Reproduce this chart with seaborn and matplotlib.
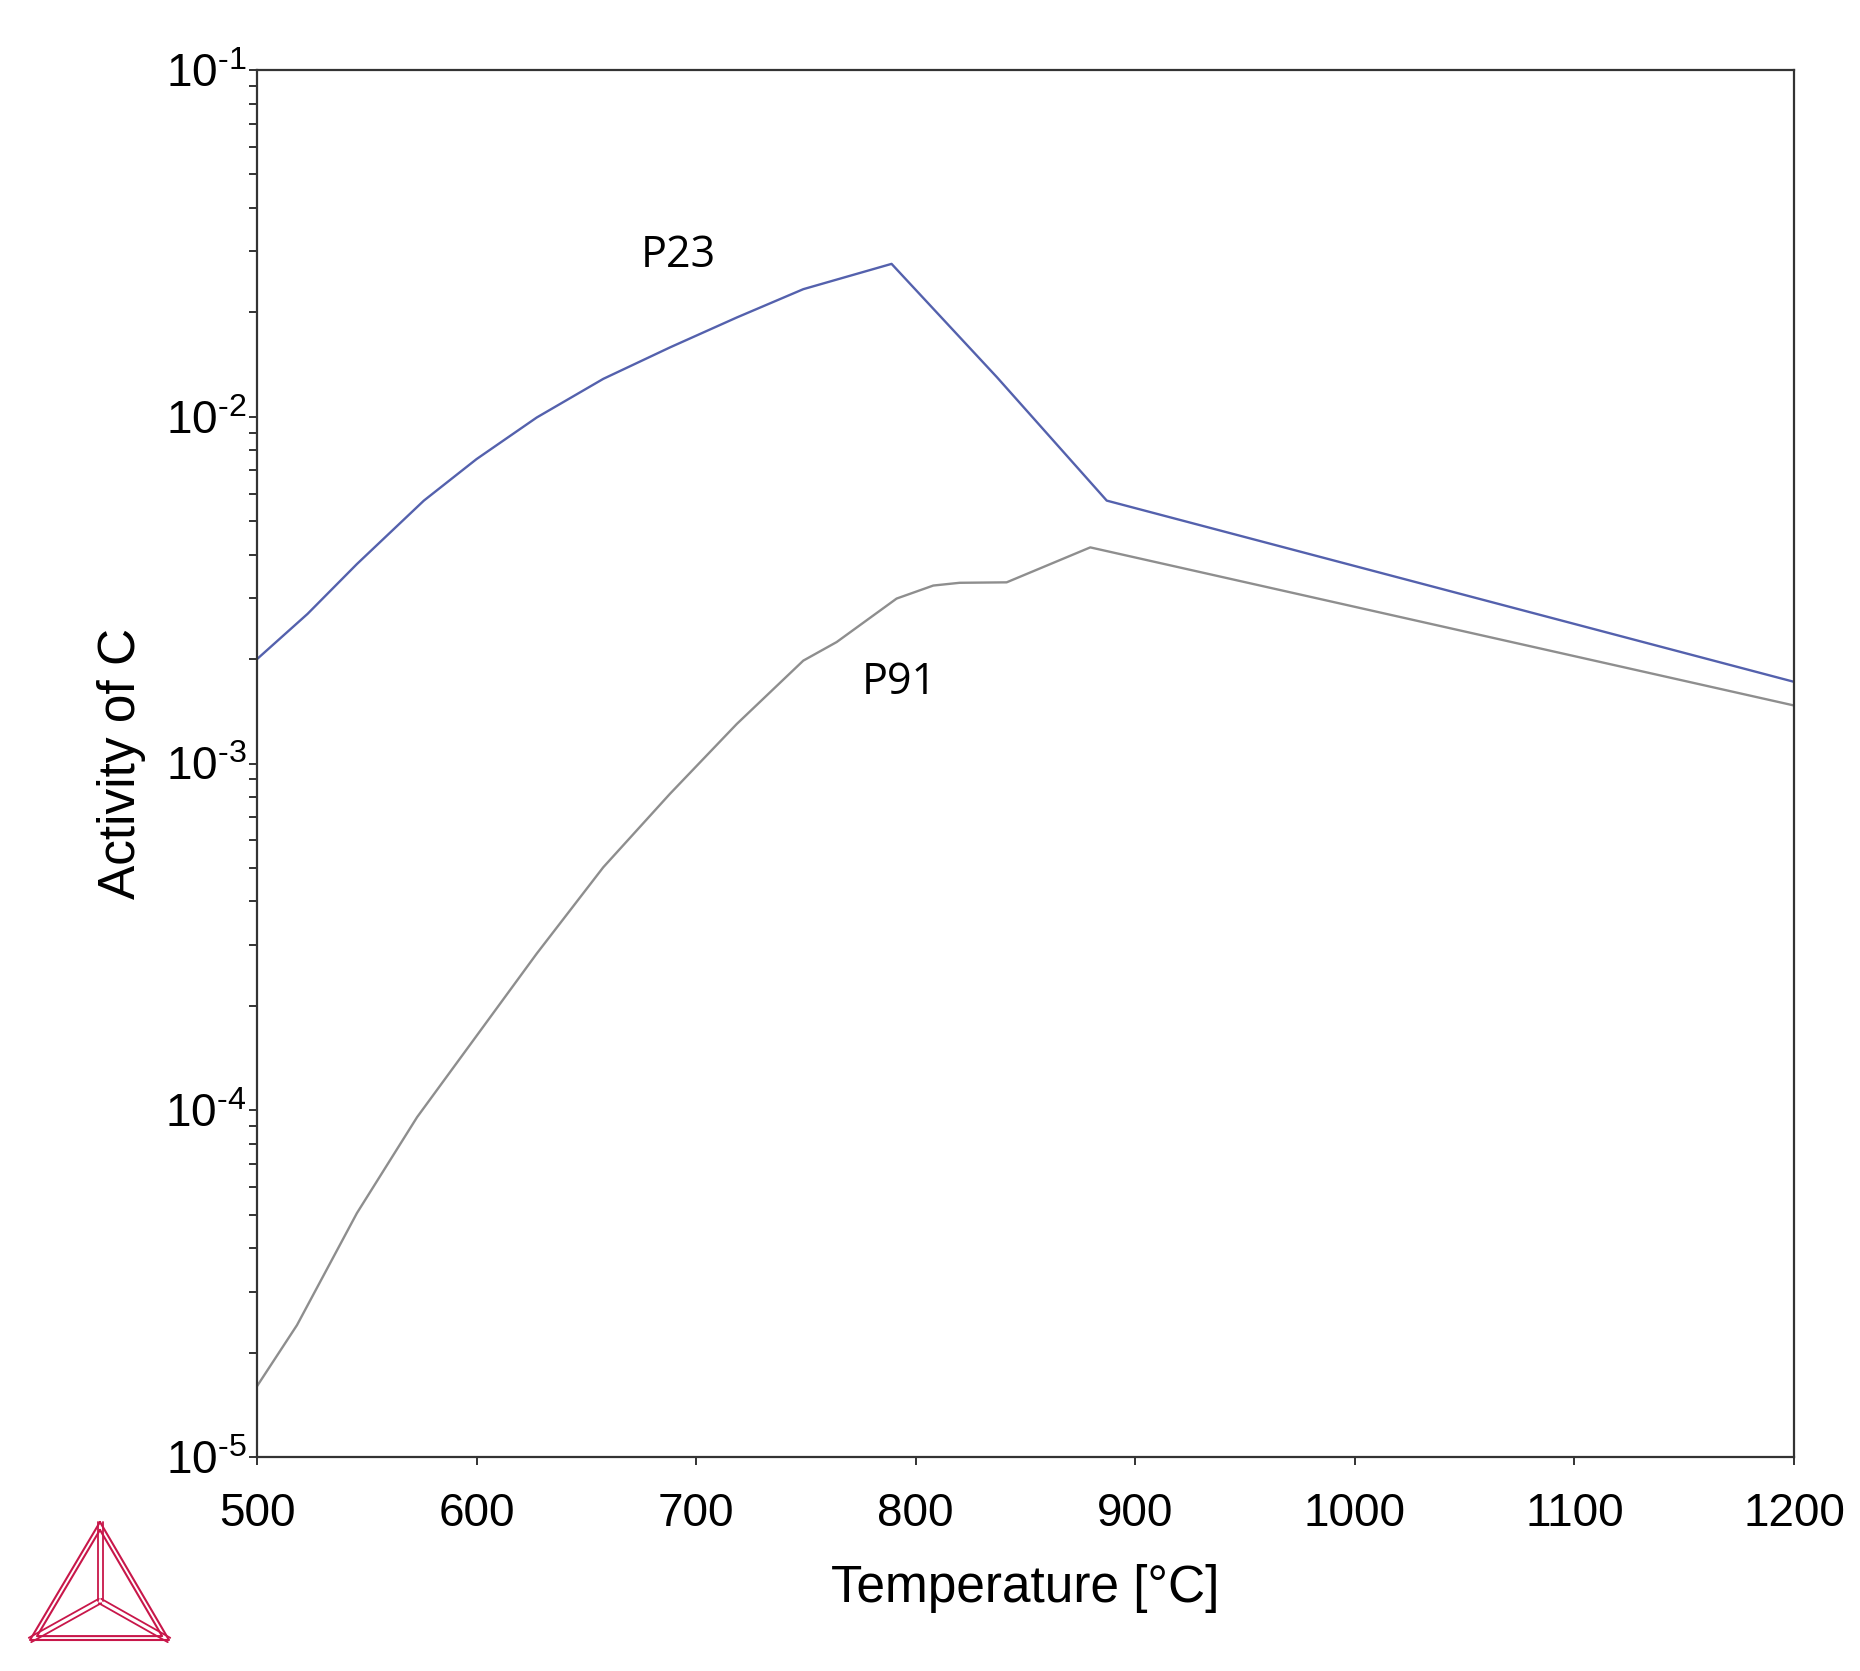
import numpy as np
import pandas as pd
import matplotlib
matplotlib.use("Agg")
import matplotlib.pyplot as plt
import seaborn as sns
from matplotlib.ticker import LogLocator, NullFormatter, FixedLocator, FuncFormatter

# ---------------- data ----------------
p23_T = [500, 523, 545.5, 576, 600, 627.4, 657.7, 688.1, 718.5, 748.8, 789,
         837, 887, 1200]
p23_a = [2.00e-3, 2.70e-3, 3.76e-3, 5.73e-3, 7.55e-3, 9.95e-3, 1.286e-2,
         1.585e-2, 1.933e-2, 2.333e-2, 2.76e-2, 1.30e-2, 5.73e-3, 1.72e-3]

p91_T = [500, 518.2, 545.5, 572.9, 597.2, 627.4, 657.7, 688.1, 718.5, 748.8,
         764, 791.3, 808, 820, 841.4, 879.5, 1200]
p91_a = [1.60e-5, 2.40e-5, 5.05e-5, 9.55e-5, 1.55e-4, 2.83e-4, 5.02e-4,
         8.18e-4, 1.30e-3, 1.98e-3, 2.24e-3, 2.99e-3, 3.26e-3, 3.32e-3,
         3.33e-3, 4.20e-3, 1.47e-3]

series_names = ["P23", "P91"]
series_colors = {"P23": "#5461ad", "P91": "#8e8e8e"}
label_pos = {"P23": (691.9, 10 ** -1.536), "P91": (792.4, 10 ** -2.767)}

x_ticks = [500, 600, 700, 800, 900, 1000, 1100, 1200]
x_label = "Temperature [°C]"
y_label = "Activity of C"

df = pd.concat([
    pd.DataFrame({"T": p23_T, "a": p23_a, "alloy": "P23"}),
    pd.DataFrame({"T": p91_T, "a": p91_a, "alloy": "P91"}),
], ignore_index=True)

# ---------------- style ----------------
sns.set_theme(style="white")
plt.rcParams["font.family"] = ["Liberation Sans", "DejaVu Sans"]
plt.rcParams["mathtext.fontset"] = "custom"
plt.rcParams["mathtext.rm"] = "Liberation Sans"
plt.rcParams["mathtext.it"] = "Liberation Sans:italic"
plt.rcParams["mathtext.bf"] = "Liberation Sans:bold"
plt.rcParams["mathtext.sf"] = "Liberation Sans"
plt.rcParams["mathtext.default"] = "regular"

W, H = 1860, 1671
fig = plt.figure(figsize=(W / 100, H / 100), dpi=100)
fig.patch.set_facecolor("white")

ax = fig.add_axes([257 / W, 1 - 1457 / H, 1537 / W, 1387 / H])

sns.lineplot(data=df, x="T", y="a", hue="alloy", palette=series_colors,
             hue_order=series_names, estimator=None, sort=False,
             legend=False, linewidth=1.7, ax=ax)

ax.set_yscale("log")
ax.set_xlim(500, 1200)
ax.set_ylim(1e-5, 1e-1)
ax.xaxis.set_major_locator(FixedLocator(x_ticks))
ax.yaxis.set_major_locator(LogLocator(base=10, numticks=10))
ax.yaxis.set_minor_locator(LogLocator(base=10, subs=np.arange(2, 10), numticks=20))
ax.yaxis.set_minor_formatter(NullFormatter())
ax.xaxis.set_minor_locator(FixedLocator([]))


def log_fmt(v, pos):
    e = int(round(np.log10(v)))
    if e < 0:
        return r"$10^{\text{-}%d}$" % (-e)
    return r"$10^{%d}$" % e


ax.yaxis.set_major_formatter(FuncFormatter(log_fmt))

spine_col = "#333333"
for s in ax.spines.values():
    s.set_visible(True)
    s.set_color(spine_col)
    s.set_linewidth(1.6)

ax.tick_params(axis="both", which="both", direction="out", color=spine_col,
               width=1.4, length=5.5, top=False, right=False,
               bottom=True, left=True, labelcolor="black")
ax.tick_params(axis="x", which="major", labelsize=33, pad=20)
ax.tick_params(axis="y", which="major", labelsize=33, pad=2)

ax.set_xlabel(x_label, fontsize=37, color="black")
ax.set_ylabel(y_label, fontsize=37, color="black")
ax.xaxis.set_label_coords(0.5, -0.077)
ax.yaxis.set_label_coords(-0.072, 0.5)
ax.grid(False)

for name in series_names:
    xx, yy = label_pos[name]
    ax.text(xx, yy, name, ha="center", va="center", fontsize=31,
            family=["Open Sans", "DejaVu Sans"], color="black")

# ---------------- logo (decoration) ----------------
lax = fig.add_axes([0, 0, 1, 1], zorder=-1)
lax.set_xlim(0, W)
lax.set_ylim(H, 0)
lax.axis("off")
logo_col = "#c8174a"
A = np.array([100, 1522.0]); L = np.array([30, 1640.0]); R = np.array([169, 1640.0])
Cc = np.array([100, 1601.0])
for k in (1.0, 0.9):
    a_ = Cc + (A - Cc) * k; l_ = Cc + (L - Cc) * k; r_ = Cc + (R - Cc) * k
    tri = np.array([a_, l_, r_, a_])
    lax.plot(tri[:, 0], tri[:, 1], color=logo_col, lw=1.5)
for P in (A, L, R):
    for off in (-2.5, 2.5):
        d = P - Cc
        n = np.array([-d[1], d[0]]) / np.hypot(*d) * off
        lax.plot([Cc[0] + n[0], P[0] + n[0]], [Cc[1] + n[1], P[1] + n[1]],
                 color=logo_col, lw=1.3)

fig.savefig("out.png", dpi=100, facecolor="white")
